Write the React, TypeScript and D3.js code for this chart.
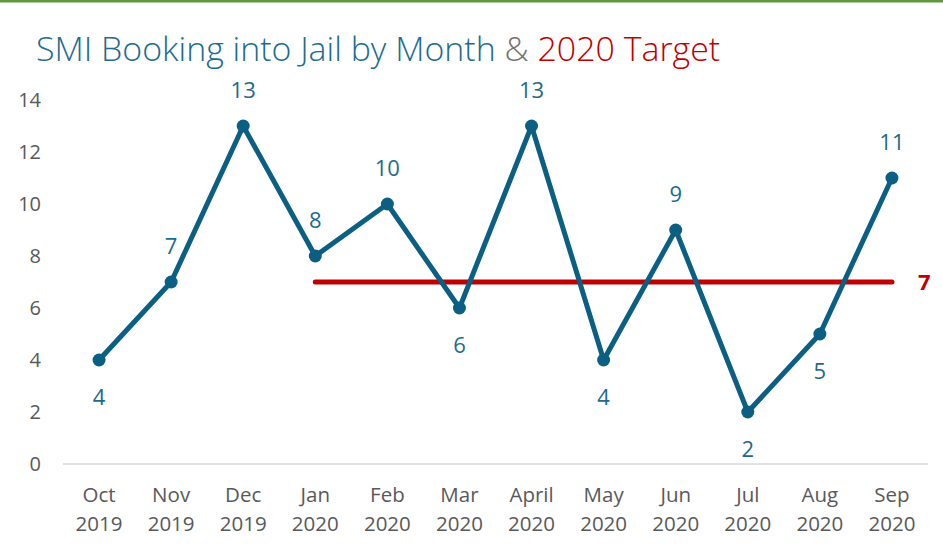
import * as d3 from "d3";
import React from "react";

const months = ["Oct", "Nov", "Dec", "Jan", "Feb", "Mar", "April", "May", "Jun", "Jul", "Aug", "Sep"];
const years = ["2019", "2019", "2019", "2020", "2020", "2020", "2020", "2020", "2020", "2020", "2020", "2020"];
const bookings = [4, 7, 13, 8, 10, 6, 13, 4, 9, 2, 5, 11];
// label placement: true = above the point
const labelAbove = [false, true, true, true, true, false, true, false, true, false, false, true];
const targetValue = 7;
const targetStart = 3; // Jan 2020
const yTicks = [0, 2, 4, 6, 8, 10, 12, 14];

const App = () => {
  const width = 943;
  const height = 556;
  const margins = { top: 100, right: 15, bottom: 92, left: 63 };

  const keys = months.map((m, i) => `${m} ${years[i]}`);

  const xScale = d3
    .scaleBand()
    .domain(keys)
    .range([margins.left, width - margins.right]);

  const yScale = d3
    .scaleLinear()
    .domain([0, 14])
    .range([height - margins.bottom, margins.top]);

  const cx = (i: number) => (xScale(keys[i]) as number) + xScale.bandwidth() / 2;

  const line = d3
    .line<number>()
    .x((_, i) => cx(i))
    .y((d) => yScale(d));

  const lineColor = "#0B5F82";
  const labelColor = "#1D6B8C";
  const red = "#C00000";
  const gray = "#595959";

  return (
    <div style={{ position: "absolute", left: 0, top: 0 }}>
      <svg width={width} height={height} style={{ display: "block", background: "#fff" }}>
        <rect x={0} y={0} width={width} height={2.5} fill="#5E9A3C" />
        <text x={36} y={61} fontFamily="'Open Sans', sans-serif" fontWeight={300} fontSize={33.9}>
          <tspan fill="#1B6C8D">SMI Booking into Jail by Month </tspan>
          <tspan fill="#737373">&amp; </tspan>
          <tspan fill={red}>2020 Target</tspan>
        </text>

        {yTicks.map((t) => (
          <text
            key={t}
            x={41}
            y={yScale(t)}
            dy="0.35em"
            textAnchor="end"
            fontFamily="'Open Sans', sans-serif"
            fontSize={20}
            fill={gray}
          >
            {t}
          </text>
        ))}

        <line
          x1={margins.left}
          x2={width - margins.right}
          y1={yScale(0)}
          y2={yScale(0)}
          stroke="#D9D9D9"
          strokeWidth={1.5}
        />

        {keys.map((k, i) => (
          <text
            key={k}
            x={cx(i)}
            textAnchor="middle"
            fontFamily="'Open Sans', sans-serif"
            fontSize={20.5}
            fill={gray}
          >
            <tspan x={cx(i)} y={502}>{months[i]}</tspan>
            <tspan x={cx(i)} y={531}>{years[i]}</tspan>
          </text>
        ))}

        <line
          x1={cx(targetStart)}
          x2={cx(keys.length - 1)}
          y1={yScale(targetValue)}
          y2={yScale(targetValue)}
          stroke={red}
          strokeWidth={5}
          strokeLinecap="round"
        />
        <text
          x={cx(keys.length - 1) + 26}
          y={yScale(targetValue)}
          dy="0.35em"
          fontFamily="'Open Sans', sans-serif"
          fontWeight={700}
          fontSize={22}
          fill={red}
        >
          {targetValue}
        </text>

        <path
          d={line(bookings) || ""}
          fill="none"
          stroke={lineColor}
          strokeWidth={5}
          strokeLinejoin="round"
        />
        {bookings.map((v, i) => (
          <circle key={i} cx={cx(i)} cy={yScale(v)} r={6.5} fill={lineColor} />
        ))}
        {bookings.map((v, i) => (
          <text
            key={`l${i}`}
            x={cx(i)}
            y={yScale(v) + (labelAbove[i] ? -36 : 37)}
            dy="0.35em"
            textAnchor="middle"
            fontFamily="'Open Sans', sans-serif"
            fontSize={22}
            fill={labelColor}
          >
            {v}
          </text>
        ))}
      </svg>
    </div>
  );
};

export default App;
